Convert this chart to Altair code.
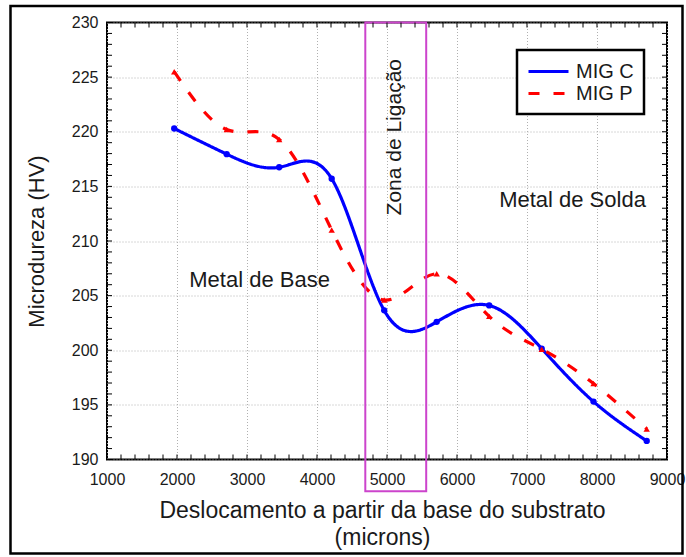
import altair as alt
import pandas as pd

FONT = "Liberation Sans"
TXT = "#1a1a1a"

# ---- data ----
positions = [1960, 2710, 3460, 4210, 4960, 5710, 6460, 7210, 7950, 8710]
mig_c = [220.3, 217.95, 216.75, 215.7, 203.65, 202.6, 204.1, 200.15, 195.3, 191.7]
mig_p = [225.5, 220.2, 219.3, 211.0, 204.6, 207.0, 203.1, 200.1, 196.95, 192.8]
series_names = ["MIG C", "MIG P"]
series_colors = ["#0000ff", "#ff0000"]

x_ticks = [1000, 2000, 3000, 4000, 5000, 6000, 7000, 8000, 9000]
y_ticks = [190, 195, 200, 205, 210, 215, 220, 225, 230]
x_minor = list(range(1000, 9001, 200))
y_minor = list(range(190, 231, 1))

zone_start = [4690]
zone_end = [5560]
zone_top = [230]
zone_bottom = [187.1]

ann_labels = ["Metal de Base", "Metal de Solda", "Zona de Ligação"]
ann_x = [3180, 7650, 5115]
ann_y = [206.45, 213.75, 219.5]
ann_angle = [0, 0, 270]
ann_size = [22, 22, 21]

W, H = 560, 437

df = pd.DataFrame({
    "pos": positions * 2,
    "hv": mig_c + mig_p,
    "serie": [series_names[0]] * len(positions) + [series_names[1]] * len(positions),
})

xscale = alt.Scale(domain=[1000, 9000], nice=False, zero=False)
yscale = alt.Scale(domain=[190, 230], nice=False, zero=False)
xaxis = alt.Axis(values=x_ticks, format="d",
                 title=["Deslocamento a partir da base do substrato", "(microns)"])
yaxis = alt.Axis(values=y_ticks, format="d", title="Microdureza (HV)")


def X(field):
    return alt.X(field, type="quantitative", scale=xscale, axis=xaxis)


def Y(field):
    return alt.Y(field, type="quantitative", scale=yscale, axis=yaxis)


lines = alt.Chart(df).mark_line(interpolate="natural", strokeWidth=3.2).encode(
    x=X("pos"), y=Y("hv"),
    color=alt.Color("serie:N", scale=alt.Scale(domain=series_names, range=series_colors),
                    legend=alt.Legend(title=None)),
    strokeDash=alt.StrokeDash("serie:N",
                              scale=alt.Scale(domain=series_names, range=[[1, 0], [11, 14]]),
                              legend=alt.Legend(title=None)),
)

pts_c = alt.Chart(df).transform_filter(alt.datum.serie == series_names[0]).mark_point(
    shape="circle", filled=True, size=40, color=series_colors[0], opacity=1
).encode(x=X("pos"), y=Y("hv"))

pts_p = alt.Chart(df).transform_filter(alt.datum.serie == series_names[1]).mark_point(
    shape="triangle-up", filled=True, size=40, color=series_colors[1], opacity=1
).encode(x=X("pos"), y=Y("hv"))

zone_df = pd.DataFrame({"pos": zone_start, "x1": zone_end, "hv": zone_bottom, "y1": zone_top})
zone = alt.Chart(zone_df).mark_rect(fillOpacity=0, stroke="#cc44cc", strokeWidth=2, clip=False).encode(
    x=X("pos"), x2="x1", y=Y("hv"), y2="y1",
)

ann_df = pd.DataFrame({"label": ann_labels, "pos": ann_x, "hv": ann_y, "angle": ann_angle, "fs": ann_size})
ann = alt.Chart(ann_df).mark_text(font=FONT, color=TXT, baseline="middle", align="center").encode(
    x=X("pos"), y=Y("hv"),
    text="label:N",
    angle=alt.Angle("angle:Q", scale=None),
    size=alt.Size("fs:Q", scale=None),
)

xt = pd.DataFrame({"pos": x_minor})
yt = pd.DataFrame({"hv": y_minor})
TL = 5
tick_b = alt.Chart(xt).mark_rule(color="black", strokeWidth=1).encode(
    x=X("pos"), y=alt.value(H), y2=alt.value(H - TL))
tick_t = alt.Chart(xt).mark_rule(color="black", strokeWidth=1).encode(
    x=X("pos"), y=alt.value(0), y2=alt.value(TL))
tick_l = alt.Chart(yt).mark_rule(color="black", strokeWidth=1).encode(
    y=Y("hv"), x=alt.value(0), x2=alt.value(TL))
tick_r = alt.Chart(yt).mark_rule(color="black", strokeWidth=1).encode(
    y=Y("hv"), x=alt.value(W - TL), x2=alt.value(W))

frame = alt.Chart(pd.DataFrame({"k": [0]})).mark_rect(
    fillOpacity=0, stroke="black", strokeWidth=2.5, clip=False
).encode(x=alt.value(-96.5), x2=alt.value(575.5), y=alt.value(-16.5), y2=alt.value(531))

chart = alt.layer(
    lines, pts_c, pts_p, zone, ann, tick_b, tick_t, tick_l, tick_r, frame
).properties(
    width=W, height=H,
    autosize=alt.AutoSizeParams(type="none"),
    padding={"left": 107, "top": 22.5, "right": 19, "bottom": 97.5},
).configure_view(
    stroke="black", strokeWidth=2
).configure_axis(
    labelFont=FONT, labelFontSize=16, labelColor=TXT,
    titleFont=FONT, titleFontWeight="normal", titleColor=TXT,
    ticks=False, domain=False,
    grid=True, gridColor="#b0b0b0", gridDash=[1, 2], gridWidth=1,
).configure_axisX(
    labelPadding=12, labelFlush=False, labelOverlap=False,
    titleFontSize=23, titleX=275, titleY=50.5,
    titleBaseline="middle", titleLineHeight=27, titleAlign="center",
).configure_axisY(
    labelPadding=9, titleFontSize=22, titleX=-71, titleY=H / 2,
    titleAngle=270, titleBaseline="middle", titleAlign="center",
).configure_legend(
    orient="none", legendX=410, legendY=27.5,
    strokeColor="black", strokeWidth=2.5, fillColor="white", padding=10,
    labelFont=FONT, labelFontSize=20, labelColor=TXT, labelOffset=26,
    symbolType="M-1,0L3,0", symbolSize=400, symbolStrokeWidth=3, rowPadding=0,
)

chart.save("out.html", embed_options={"renderer": "svg", "actions": False})
